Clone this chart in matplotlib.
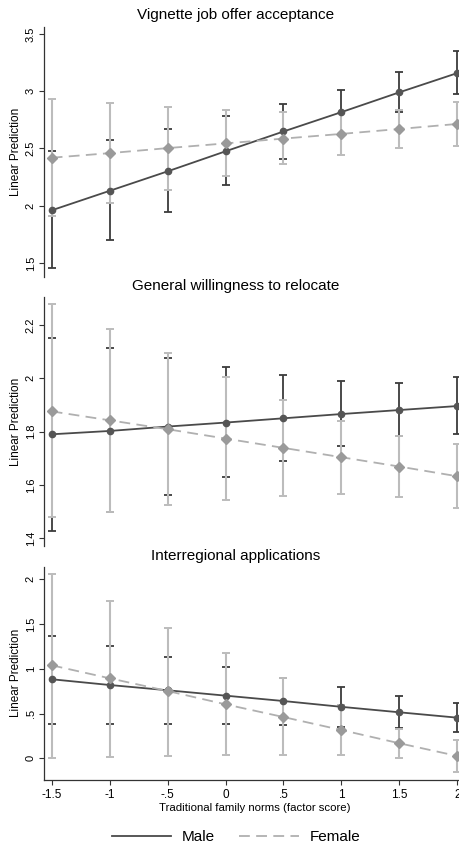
import numpy as np
import matplotlib
matplotlib.use("Agg")
import matplotlib.pyplot as plt
from matplotlib.lines import Line2D

plt.rcParams['font.family'] = ['Liberation Sans', 'DejaVu Sans']

# ------------------------------
# Data
# ------------------------------
x_vals = [-1.5, -1, -0.5, 0, 0.5, 1, 1.5, 2]
x_labels = ["-1.5", "-1", "-.5", "0", ".5", "1", "1.5", "2"]

titles = ["Vignette job offer acceptance",
          "General willingness to relocate",
          "Interregional applications"]

# panel 1: vignette job offer acceptance
job_male = [1.96, 2.13, 2.30, 2.475, 2.648, 2.817, 2.99, 3.158]
job_male_lo = [1.456, 1.703, 1.942, 2.177, 2.408, 2.627, 2.815, 2.975]
job_male_hi = [2.474, 2.570, 2.672, 2.779, 2.886, 3.011, 3.166, 3.352]
job_female = [2.419, 2.459, 2.503, 2.544, 2.586, 2.627, 2.670, 2.714]
job_female_lo = [1.907, 2.023, 2.140, 2.256, 2.362, 2.443, 2.507, 2.522]
job_female_hi = [2.933, 2.895, 2.863, 2.837, 2.817, 2.811, 2.833, 2.906]

# panel 2: general willingness to relocate
rel_male = [1.79, 1.8025, 1.819, 1.834, 1.85, 1.866, 1.881, 1.896]
rel_male_lo = [1.429, 1.4975, 1.564, 1.63, 1.691, 1.7475, 1.784, 1.7925]
rel_male_hi = [2.15, 2.1125, 2.0775, 2.0425, 2.011, 1.99, 1.984, 2.006]
rel_female = [1.876, 1.8425, 1.809, 1.774, 1.739, 1.704, 1.669, 1.6325]
rel_female_lo = [1.481, 1.4975, 1.524, 1.544, 1.5575, 1.565, 1.554, 1.515]
rel_female_hi = [2.279, 2.185, 2.094, 2.005, 1.919, 1.841, 1.784, 1.7525]

# panel 3: interregional applications
app_male = [0.883, 0.819, 0.760, 0.700, 0.640, 0.575, 0.514, 0.454]
app_male_lo = [0.385, 0.385, 0.384, 0.383, 0.372, 0.353, 0.335, 0.294]
app_male_hi = [1.371, 1.251, 1.136, 1.017, 0.901, 0.795, 0.693, 0.617]
app_female = [1.039, 0.894, 0.752, 0.603, 0.461, 0.316, 0.168, 0.026]
app_female_lo = [0.007, 0.015, 0.03, 0.041, 0.04, 0.04, 0.007, -0.153]
app_female_hi = [2.06, 1.762, 1.46, 1.173, 0.894, 0.59, 0.33, 0.205]

y_ticks = [[1.5, 2, 2.5, 3, 3.5],
           [1.4, 1.6, 1.8, 2.0, 2.2],
           [0, 0.5, 1, 1.5, 2]]
y_ticklabels = [["1.5", "2", "2.5", "3", "3.5"],
                ["1.4", "1.6", "1.8", "2", "2.2"],
                ["0", ".5", "1", "1.5", "2"]]
y_lims = [(1.378, 3.56), (1.371, 2.305), (-0.242, 2.14)]

panels = [
    (job_male, job_male_lo, job_male_hi, job_female, job_female_lo, job_female_hi),
    (rel_male, rel_male_lo, rel_male_hi, rel_female, rel_female_lo, rel_female_hi),
    (app_male, app_male_lo, app_male_hi, app_female, app_female_lo, app_female_hi),
]

# ------------------------------
# Layout (pixel positions of each plot region)
# ------------------------------
W, H = 459, 846
fig = plt.figure(figsize=(W / 100, H / 100), dpi=100)

# (top, bottom) of each y spine in pixels
boxes = [(27, 277), (297, 546), (566.7, 780)]
title_y = [15, 286, 556]
left_px, right_px = 44, 465

male_col = "#4a4a4a"
male_bar = "#3c3c3c"
fem_line = "#b0b0b0"
fem_mark = "#9a9a9a"
fem_bar = "#bcbcbc"
axis_col = "#333333"

for i, (top, bot) in enumerate(boxes):
    ax = fig.add_axes([left_px / W, 1 - bot / H, (right_px - left_px) / W, (bot - top) / H])
    m, m_lo, m_hi, f, f_lo, f_hi = panels[i]
    m = np.array(m); f = np.array(f)

    # CIs: male then female (female bars sit on top), then lines
    ax.errorbar(x_vals, m, yerr=[m - np.array(m_lo), np.array(m_hi) - m],
                fmt="none", ecolor=male_bar, elinewidth=1.3, capsize=2.6,
                capthick=1.3, zorder=2)
    ax.errorbar(x_vals, f, yerr=[f - np.array(f_lo), np.array(f_hi) - f],
                fmt="none", ecolor=fem_bar, elinewidth=1.5, capsize=2.6,
                capthick=1.4, zorder=3)

    ax.plot(x_vals, m, color=male_col, lw=1.3, zorder=4)
    ax.plot(x_vals, m, ls="none", marker="o", ms=4.5, color="#555555", zorder=5)
    ax.plot(x_vals, f, color=fem_line, lw=1.3, ls=(0, (6, 3.5)), zorder=6)
    ax.plot(x_vals, f, ls="none", marker="D", ms=5, color=fem_mark, zorder=7)

    ax.set_xlim(-1.566, 2.066)
    ax.set_ylim(*y_lims[i])
    ax.set_yticks(y_ticks[i])
    ax.set_yticklabels(y_ticklabels[i], rotation=90, va="center", fontsize=8)
    ax.tick_params(axis="y", length=3.5, width=0.8, color=axis_col, pad=2.5)
    ax.set_ylabel("Linear Prediction", fontsize=8.5)
    ax.yaxis.set_label_coords((22.5 - left_px) / (right_px - left_px), 0.5)

    for s in ["top", "right"]:
        ax.spines[s].set_visible(False)
    ax.spines["left"].set_color(axis_col)
    ax.spines["left"].set_linewidth(0.9)

    if i < 2:
        ax.spines["bottom"].set_visible(False)
        ax.set_xticks([])
    else:
        ax.spines["bottom"].set_color(axis_col)
        ax.spines["bottom"].set_linewidth(0.9)
        ax.set_xticks(x_vals)
        ax.set_xticklabels(x_labels, fontsize=8.5)
        ax.tick_params(axis="x", length=3.5, width=0.8, color=axis_col, pad=3)
        ax.set_xlabel("Traditional family norms (factor score)", fontsize=8.2, labelpad=1.5)

    fig.text(236 / W, 1 - title_y[i] / H, titles[i], ha="center", va="center", fontsize=11)

# ------------------------------
# Legend
# ------------------------------
handles = [Line2D([0], [0], color=male_col, lw=1.3),
           Line2D([0], [0], color=fem_line, lw=1.3, ls=(0, (6, 3.5)))]
fig.legend(handles, ["Male", "Female"], loc="center", bbox_to_anchor=(236 / W, 1 - 837 / H),
           ncol=2, frameon=False, fontsize=11, handlelength=3.9, handletextpad=0.7,
           columnspacing=1.6)

fig.savefig("out.png", dpi=100)
